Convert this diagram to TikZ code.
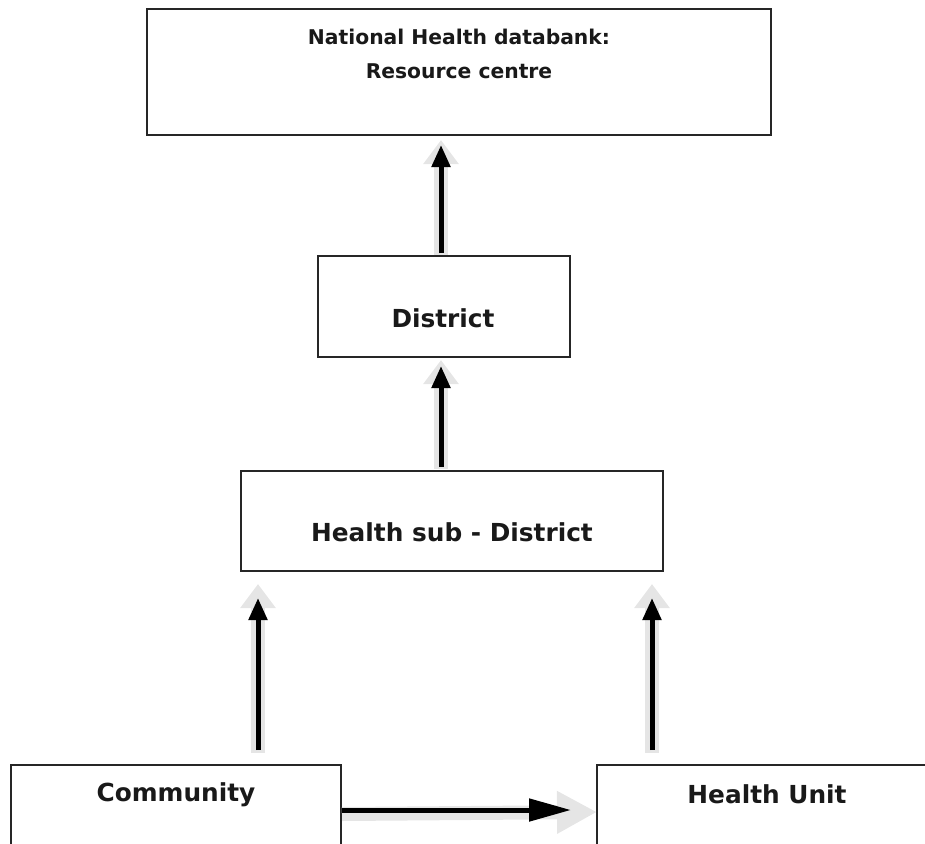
\documentclass[tikz,border=0pt]{standalone}
\usepackage{fontspec}
\setmainfont{DejaVu Sans}
\usetikzlibrary{arrows.meta}
\begin{document}
\begin{tikzpicture}[x=1pt,y=-1pt,
  box/.style={draw=black!85,line width=1.4pt,fill=white},
  lbl/.style={font=\bfseries\fontsize{20.3}{34}\selectfont,align=center,text=black!90},
  biglbl/.style={lbl,font=\bfseries\fontsize{24.8}{30}\selectfont},
  halo/.style={draw=black!10,line width=14pt,-{Triangle[length=24pt,width=34pt]}},
  flow/.style={draw=black,line width=5pt,-{Triangle[length=22pt,width=18pt]}},
  hflow/.style={draw=black,line width=5pt,-{Triangle[length=42pt,width=22pt]}}]
\useasboundingbox (0,0) rectangle (925,843);
\path[box] (147,9) rectangle (771,135);
\node[lbl] (nat) at (459,54) {National Health databank:\\Resource centre};
\path[box] (318,256) rectangle (570,357);
\node[biglbl] (dist) at (443,318) {District};
\path[box] (241,471) rectangle (663,571);
\node[biglbl] (hsd) at (452,532) {Health sub - District};
\path[box] (11,765) rectangle (341,860);
\node[biglbl] (com) at (176,795) {Community};
\path[box] (597,765) rectangle (940,860);
\node[biglbl] (hu) at (767,794) {Health Unit};
% arrow end points
\coordinate (a1s) at (441,253); \coordinate (a1e) at (441,145);
\coordinate (h1s) at (441,255); \coordinate (h1e) at (441,140);
\coordinate (a2s) at (441,467); \coordinate (a2e) at (441,366);
\coordinate (h2s) at (441,469); \coordinate (h2e) at (441,360);
\coordinate (a3s) at (258,750); \coordinate (a3e) at (258,598);
\coordinate (h3s) at (258,753); \coordinate (h3e) at (258,584);
\coordinate (a4s) at (652,750); \coordinate (a4e) at (652,598);
\coordinate (h4s) at (652,753); \coordinate (h4e) at (652,584);
\coordinate (a5s) at (342,810); \coordinate (a5e) at (571,810);
\coordinate (h5s) at (342,814); \coordinate (h5e) at (597,812);
% halos
\draw[halo] (h1s) -- (h1e);
\draw[halo] (h2s) -- (h2e);
\draw[halo] (h3s) -- (h3e);
\draw[halo] (h4s) -- (h4e);
\draw[halo,-{Triangle[length=40pt,width=40pt]}] (h5s) -- (h5e);
% arrows
\draw[flow] (a1s) -- (a1e);
\draw[flow] (a2s) -- (a2e);
\draw[flow] (a3s) -- (a3e);
\draw[flow] (a4s) -- (a4e);
\draw[hflow] (a5s) -- (a5e);
\end{tikzpicture}
\end{document}
